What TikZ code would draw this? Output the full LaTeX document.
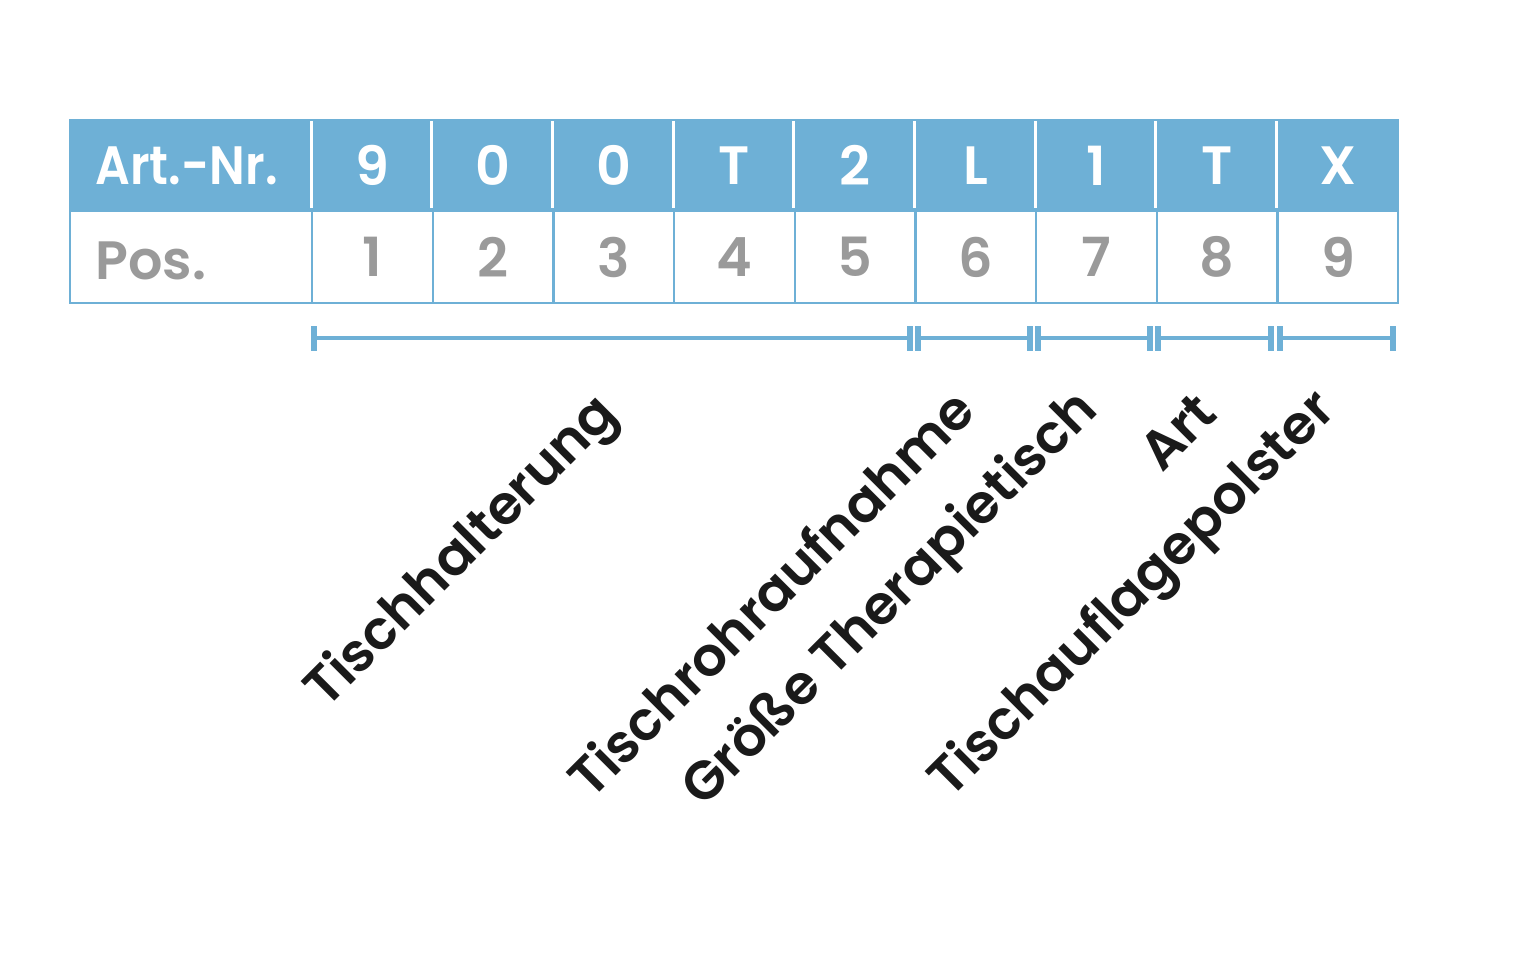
\documentclass[tikz,border=0pt]{standalone}
\usepackage{fontspec}
\setmainfont{Poppins}[BoldFont={Poppins SemiBold}]
\definecolor{tblue}{HTML}{6EB0D6}
\definecolor{tgray}{HTML}{9A9A9A}
\definecolor{tblack}{HTML}{1A1A1A}
\tikzset{
  hfont/.style={font=\fontsize{27}{27}\selectfont\bfseries},
  hcell/.style={draw=tblue, fill=tblue, line width=1.2pt, minimum width=60.33pt, minimum height=45.5pt, inner sep=0pt, text=white, hfont},
  pcell/.style={draw=tblue, fill=white, line width=1.2pt, minimum width=60.33pt, minimum height=46pt, inner sep=0pt, text=tgray, hfont},
  brk/.style={draw=tblue, line width=2pt},
  tick/.style={draw=tblue, line width=3pt},
  lbl/.style={rotate=45, anchor=base east, inner sep=0pt, text=tblack, font=\fontsize{27}{27}\selectfont\bfseries}
}
\begin{document}
\begin{tikzpicture}[x=0.5pt,y=-0.5pt]
\useasboundingbox (0,0) rectangle (1531,954);
% first column
\node[hcell, minimum width=121pt, anchor=north west] (h0) at (69,119) {};
\node[anchor=west, text=white, hfont, inner sep=0pt] (h0t) at (95,166) {\scalebox{0.9}[1]{Art.-Nr.}};
\node[pcell, minimum width=121pt, anchor=north west] (p0) at (69,210) {};
\node[anchor=west, text=tgray, hfont, inner sep=0pt] (p0t) at (95,261) {Pos.};
% cells
\foreach \i/\t in {1/9,2/0,3/0,4/T,5/2,6/L,7/1,8/T,9/X}{
  \node[hcell, anchor=north west] (h\i) at ({311+(\i-1)*120.67},119) {\t};
  \node[pcell, anchor=north west] (p\i) at ({311+(\i-1)*120.67},210) {\i};
}
% white separators in header
\foreach \i in {1,...,9}{
  \draw[white, line width=1.5pt] ({311+(\i-1)*120.67},121) -- ({311+(\i-1)*120.67},208);
}
% brackets
\foreach \a/\b/\n in {314/910/1,918/1030/2,1038/1150/3,1158/1271/4,1280/1393/5}{
  \coordinate (s\n a) at (\a,338);
  \coordinate (s\n b) at (\b,338);
  \draw[brk] (s\n a) -- (s\n b);
  \draw[tick] (\a,326) -- (\a,351);
  \draw[tick] (\b,326) -- (\b,351);
}
% labels
\node[lbl] (l1) at (620,416) {Tischhalterung};
\node[lbl] (l2) at (978,414) {Tischrohraufnahme};
\node[lbl] (l3) at (1100,412) {Größe Therapietisch};
\node[lbl] (l4) at (1220,416) {Art};
\node[lbl] (l5) at (1338,412) {Tischauflagepolster};
\end{tikzpicture}
\end{document}
